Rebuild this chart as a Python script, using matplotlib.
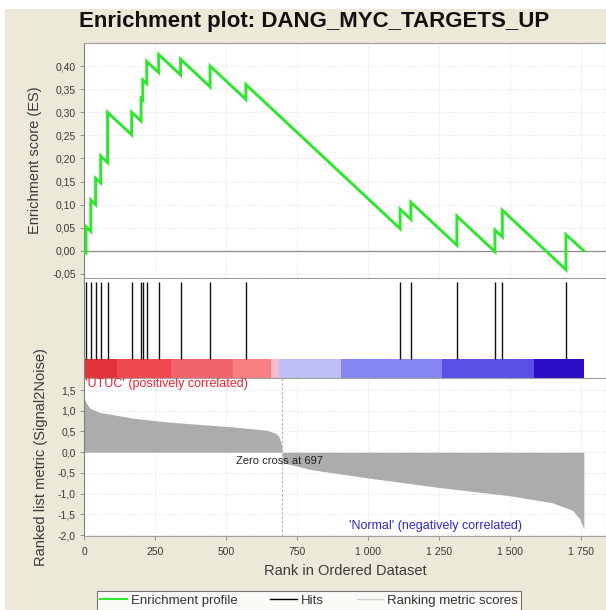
import matplotlib
matplotlib.use("Agg")
import matplotlib.pyplot as plt
from matplotlib.lines import Line2D
from matplotlib.patches import Rectangle

# ---------------- data ----------------
title = "Enrichment plot: DANG_MYC_TARGETS_UP"

# running enrichment score polyline vertices (rank, ES)
es_rank = [0, 7, 7, 24, 24, 41, 41, 59, 59, 83, 83, 168, 168, 201, 201, 207, 207,
           221, 221, 263, 263, 340, 340, 444, 444, 570, 570, 1113, 1113, 1151, 1151,
           1313, 1313, 1447, 1447, 1473, 1473, 1697, 1697, 1760]
es_value = [0.0, -0.004, 0.052, 0.042, 0.110, 0.100, 0.157, 0.147, 0.205, 0.191, 0.300,
            0.251, 0.300, 0.281, 0.330, 0.327, 0.370, 0.362, 0.410, 0.386, 0.425,
            0.381, 0.415, 0.355, 0.400, 0.328, 0.360, 0.048, 0.090, 0.068, 0.105,
            0.012, 0.075, -0.002, 0.045, 0.030, 0.088, -0.041, 0.035, 0.000]

# gene-set hit positions (rank)
hits_rank = [7, 24, 41, 59, 83, 168, 201, 207, 221, 263, 340, 444, 570,
             1113, 1151, 1313, 1447, 1473, 1697]

# ranked list metric (rank, Signal2Noise)
metric_rank = [0, 5, 21, 56, 173, 292, 408, 525, 644, 673, 685, 695, 697,
               700, 800, 1000, 1250, 1500, 1650, 1720, 1745, 1760]
metric_value = [1.35, 1.22, 1.06, 0.96, 0.82, 0.73, 0.67, 0.61, 0.53, 0.46, 0.40, 0.20, 0.0,
                -0.25, -0.42, -0.62, -0.85, -1.05, -1.22, -1.40, -1.60, -1.85]
zero_cross = 697

# colour bar bands
band_edges = [0, 116, 306, 525, 660, 687, 905, 1259, 1585, 1760]
band_colors = ['#e2323a', '#ef4a52', '#f2636c', '#f5807f', '#f9bccb',
               '#bfbff7', '#8686f2', '#5a50e6', '#2a0cc4']

x_ticks = [0, 250, 500, 750, 1000, 1250, 1500, 1750]
x_ticklabels = ["0", "250", "500", "750", "1 000", "1 250", "1 500", "1 750"]
es_ticks = [-0.05, 0.0, 0.05, 0.10, 0.15, 0.20, 0.25, 0.30, 0.35, 0.40]
es_ticklabels = ["-0,05", "0,00", "0,05", "0,10", "0,15", "0,20", "0,25", "0,30", "0,35", "0,40"]
rm_ticks = [-2.0, -1.5, -1.0, -0.5, 0.0, 0.5, 1.0, 1.5]
rm_ticklabels = ["-2,0", "-1,5", "-1,0", "-0,5", "0,0", "0,5", "1,0", "1,5"]

# ---------------- figure ----------------
W, H = 606, 610
BG = '#ECE9D8'
plt.rcParams['font.family'] = ['Liberation Sans', 'DejaVu Sans']
fig = plt.figure(figsize=(W / 100, H / 100), dpi=100, facecolor=BG)

# white margins at top / left
fig.patches.append(Rectangle((0, 1 - 9 / H), 1, 9 / H, transform=fig.transFigure,
                             facecolor='white', edgecolor='none', zorder=0))
fig.patches.append(Rectangle((0, 0), 5 / W, 1, transform=fig.transFigure,
                             facecolor='white', edgecolor='none', zorder=0))

def box(l, t, r, b):
    return [l / W, 1 - b / H, (r - l) / W, (b - t) / H]

L, R = 84, 606
xmax = (R - L) / 0.284

ax_es = fig.add_axes(box(L, 43, R, 278))
ax_hit = fig.add_axes(box(L, 278, R, 378))
ax_rm = fig.add_axes(box(L, 378, R, 536))

grid_kw = dict(color='#e4e4e4', lw=0.6, ls=(0, (2, 2)))
tick_col = '#3a3a3a'
lab_col = '#3a3a3a'

for ax in (ax_es, ax_hit, ax_rm):
    ax.set_facecolor('white')
    ax.set_xlim(0, xmax)
    for s in ax.spines.values():
        s.set_color('#a0a0a0')
        s.set_linewidth(0.8)
    ax.spines['left'].set_color('#808080')

# ES panel
ax_es.set_ylim(-0.059, 0.45)
ax_es.set_xticks(x_ticks)
ax_es.set_xticklabels([])
ax_es.tick_params(axis='x', length=0)
ax_es.set_yticks(es_ticks)
ax_es.set_yticklabels(es_ticklabels, fontsize=7.5, color=tick_col)
ax_es.tick_params(axis='y', length=3, width=0.6, color='#808080', pad=3)
ax_es.grid(True, **grid_kw)
ax_es.set_axisbelow(True)
ax_es.axhline(0, color='#8a8a8a', lw=0.9, zorder=1)
ax_es.plot(es_rank, es_value, color='#2ee62e', lw=2.1, zorder=3, solid_joinstyle='miter')
ax_es.set_ylabel("Enrichment score (ES)", fontsize=10.5, color=lab_col, labelpad=7)

# hits + colour bar panel
ax_hit.set_ylim(0, 100)
ax_hit.set_xticks([])
ax_hit.set_yticks([])
ax_hit.vlines(hits_rank, 19, 96, color='#111111', lw=1.0)
for i, c in enumerate(band_colors):
    ax_hit.add_patch(Rectangle((band_edges[i], 0), band_edges[i + 1] - band_edges[i], 19,
                               facecolor=c, edgecolor='none'))

# ranked list panel
ax_rm.set_ylim(-2.02, 1.79)
ax_rm.set_yticks(rm_ticks)
ax_rm.set_yticklabels(rm_ticklabels, fontsize=7.5, color=tick_col)
ax_rm.set_xticks(x_ticks)
ax_rm.set_xticklabels(x_ticklabels, fontsize=7.5, color=tick_col)
ax_rm.tick_params(axis='both', length=3, width=0.6, color='#808080', pad=3)
ax_rm.tick_params(axis='x', pad=5)
ax_rm.grid(True, **grid_kw)
ax_rm.set_axisbelow(True)
ax_rm.fill_between(metric_rank, metric_value, 0, color='#acacac', lw=0, zorder=2)
ax_rm.axvline(zero_cross, color='#b0b0b0', lw=0.8, ls=(0, (2, 2)), zorder=3)
ax_rm.text(687, -0.08, "Zero cross at %d" % zero_cross, fontsize=8,
           color='#222222', ha='center', va='top', zorder=4)
ax_rm.text(5, 1.78, "'UTUC' (positively correlated)", fontsize=9, color='#ee2233',
           ha='left', va='top')
ax_rm.text(1236, -1.92, "'Normal' (negatively correlated)", fontsize=9, color='#2a2ac8',
           ha='center', va='bottom')
ax_rm.set_ylabel("Ranked list metric (Signal2Noise)", fontsize=10.5, color=lab_col, labelpad=7)
ax_rm.set_xlabel("Rank in Ordered Dataset", fontsize=10.5, color=lab_col, labelpad=5)

# title
fig.text(314 / W, 1 - 22 / H, title, fontsize=16, fontweight='bold', ha='center',
         va='center', color='#111111')

# legend
handles = [Line2D([], [], color='#2ee62e', lw=1.5),
           Line2D([], [], color='black', lw=1.0),
           Line2D([], [], color='#d0d0d0', lw=1.0)]
labels = ["Enrichment profile", "Hits", "Ranking metric scores"]
leg = fig.legend(handles, labels, loc='upper center', bbox_to_anchor=(309 / W, 1 - 591 / H),
                 ncol=3, fontsize=9.5, frameon=True, fancybox=False, borderpad=0.25,
                 borderaxespad=0, handlelength=2.0, handletextpad=0.3, columnspacing=2.5)
leg.get_frame().set_edgecolor('#555555')
leg.get_frame().set_linewidth(0.8)
for t in leg.get_texts():
    t.set_color('#333333')

fig.savefig("out.png", dpi=100, facecolor=BG)
